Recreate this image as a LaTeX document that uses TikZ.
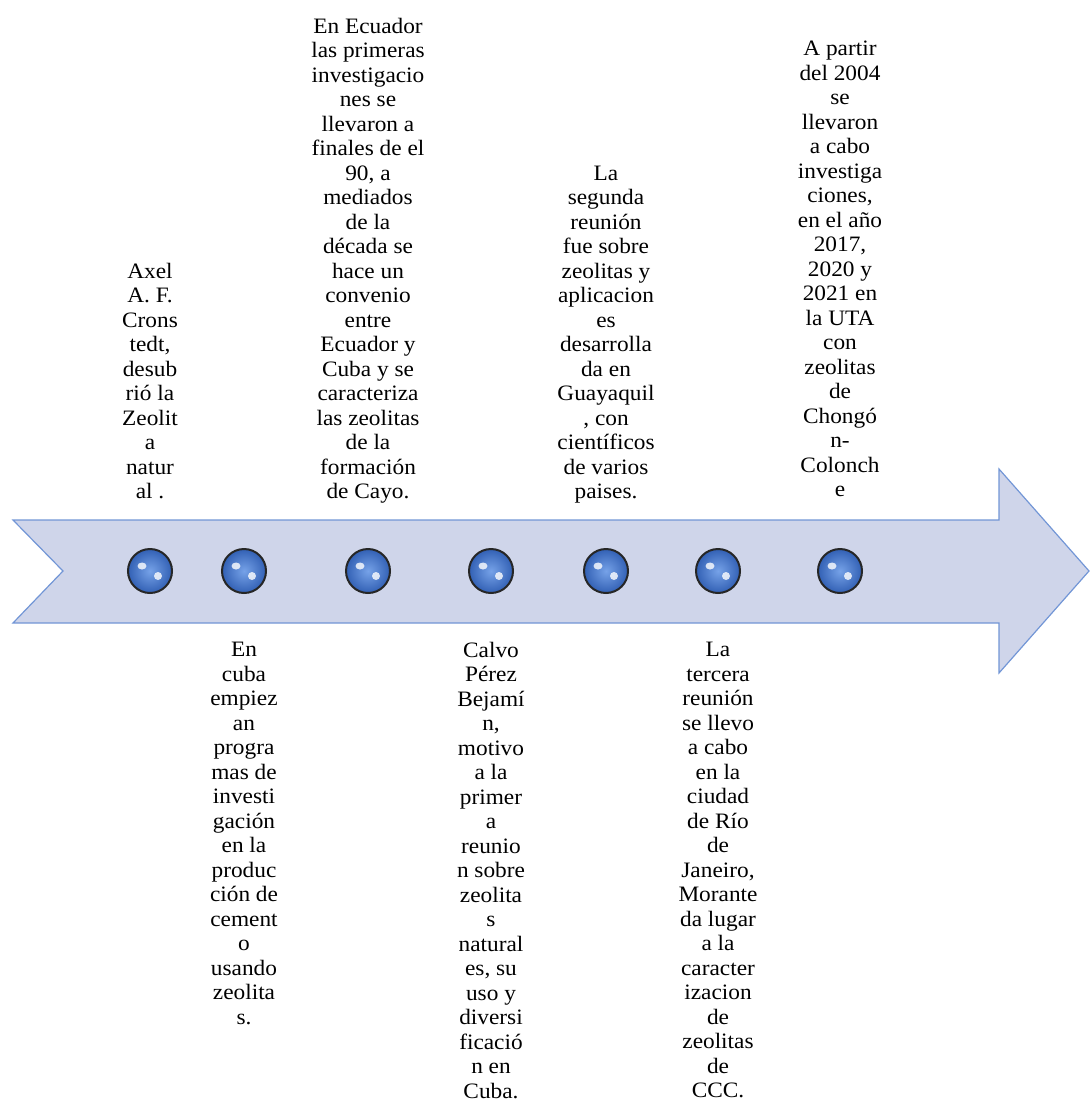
\documentclass[tikz,border=0pt]{standalone}
\usepackage{fontspec}
\setmainfont{LiberationSerif-Regular.ttf}[BoldFont = LiberationSerif-Bold.ttf]
\usepackage{tikz}

\definecolor{bandfill}{RGB}{207,213,234}
\definecolor{bandline}{RGB}{114,150,214}
\definecolor{ballin}{RGB}{118,162,232}
\definecolor{ballout}{RGB}{50,96,180}

\begin{document}
\begin{tikzpicture}[x=1pt, y=-1pt,
  ball/.style = {circle, draw = black!85, line width = 2pt, minimum size = 44pt, inner sep = 0pt, inner color = ballin, outer color = ballout},
  event/.style = {align = center, inner sep = 0pt, xscale = 1.06, font = \fontsize{22}{24.5}\selectfont}]

\useasboundingbox (0,0) rectangle (1090,1103);

% the arrow band
\draw[fill = bandfill, draw = bandline, line width = 1.2pt] (13,520)--(999,520)--(999,469)--(1089,571)--(999,673)--(999,623)--(13,623)--(63,571)--cycle;

% the balls
\foreach \n/\x in {1/150, 2/244, 3/368, 4/491, 5/606, 6/718, 7/840} {
  \node[ball] (s\n) at (\x,571) {};
  \fill[white, opacity = 0.8] ([shift = {(-8,-5)}]s\n.center) ellipse (4.5 and 3.5);
  \fill[white, opacity = 0.8] ([shift = {(8,5)}]s\n.center) ellipse (4 and 4);
}

% texts above the band
\node[event, text depth = 0pt, anchor = south] (t1) at (150,499) {Axel\\A. F.\\Crons\\tedt,\\desub\\rió la\\Zeolit\\a\\natur\\al .};
\node[event, text depth = 0pt, anchor = south] (t3) at (368,499) {En Ecuador\\las primeras\\investigacio\\nes se\\llevaron a\\finales de el\\90, a\\mediados\\de la\\década se\\hace un\\convenio\\entre\\Ecuador y\\Cuba y se\\caracteriza\\las zeolitas\\de la\\formación\\de Cayo.};
\node[event, text depth = 0pt, anchor = south] (t5) at (606,499) {La\\segunda\\reunión\\fue sobre\\zeolitas y\\aplicacion\\es\\desarrolla\\da en\\Guayaquil\\, con\\científicos\\de varios\\paises.};
\node[event, text depth = 0pt, anchor = south] (t7) at (840,497) {A partir\\del 2004\\se\\llevaron\\a cabo\\investiga\\ciones,\\en el año\\2017,\\2020 y\\2021 en\\la UTA\\con\\zeolitas\\de\\Chongó\\n-\\Colonch\\e};

% texts below the band
\node[event, anchor = north] (t2) at (244,642) {En\\cuba\\empiez\\an\\progra\\mas de\\investi\\gación\\en la\\produc\\ción de\\cement\\o\\usando\\zeolita\\s.};
\node[event, anchor = north] (t4) at (491,642) {Calvo\\Pérez\\Bejamí\\n,\\motivo\\a la\\primer\\a\\reunio\\n sobre\\zeolita\\s\\natural\\es, su\\uso y\\diversi\\ficació\\n en\\Cuba.};
\node[event, anchor = north] (t6) at (718,642) {La\\tercera\\reunión\\se llevo\\a cabo\\en la\\ciudad\\de Río\\de\\Janeiro,\\Morante\\da lugar\\a la\\caracter\\izacion\\de\\zeolitas\\de\\CCC.};
\end{tikzpicture}
\end{document}
